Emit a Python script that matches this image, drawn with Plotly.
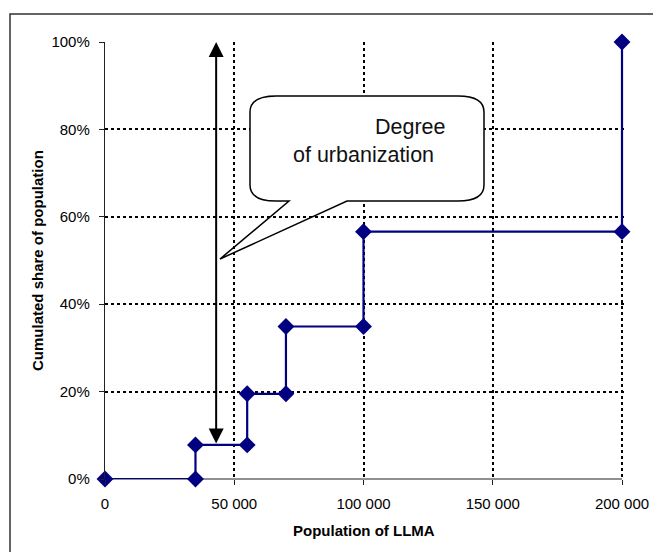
import plotly.graph_objects as go

# ---- data ----
population = [0, 35000, 35000, 55000, 55000, 70000, 70000, 100000, 100000, 200000, 200000]
cum_share = [0.0, 0.0, 0.078, 0.078, 0.195, 0.195, 0.349, 0.349, 0.566, 0.566, 1.0]
x_tickvals = [0, 50000, 100000, 150000, 200000]
x_ticktext = ["0", "50 000", "100 000", "150 000", "200 000"]
y_tickvals = [0, 0.2, 0.4, 0.6, 0.8, 1.0]
arrow_x = 43000
arrow_top = 1.0
arrow_bottom = 0.078
callout_lines = ["Degree", "of urbanization"]
x_title = "Population of LLMA"
y_title = "Cumulated share of population"

# ---- layout geometry (pixels) ----
W, H = 653, 552
L, R, T, B = 105, 27, 42, 73
PW, PH = W - L - R, H - T - B
X_AXIS_PX = 517            # pixel span of 0..200000
x_max = 200000 * PW / X_AXIS_PX   # small extra room so the last vertical step isn't clipped

def xp(px):
    return (px - L) / PW

def yp(py):
    return (H - B - py) / PH

FONT = "Liberation Sans, Arial, sans-serif"

fig = go.Figure()
fig.add_trace(go.Scatter(
    x=population, y=cum_share, mode="lines+markers",
    line=dict(color="#000080", width=2.2),
    marker=dict(symbol="diamond", size=13, color="#000080"),
    cliponaxis=False, showlegend=False, hoverinfo="skip",
))

# callout box (rounded rectangle with a wedge pointer)
bx0, bx1, by0, by1 = 250, 484, 96, 201
rx, ry = 26, 16
tip = (220, 259)
pb0, pb1 = 289, 347

def P(px, py):
    return f"{xp(px):.5f},{yp(py):.5f}"

box_path = (f"M{P(bx0, by0 + ry)} Q{P(bx0, by0)} {P(bx0 + rx, by0)} "
            f"L{P(bx1 - rx, by0)} Q{P(bx1, by0)} {P(bx1, by0 + ry)} "
            f"L{P(bx1, by1 - ry)} Q{P(bx1, by1)} {P(bx1 - rx, by1)} "
            f"L{P(bx0 + rx, by1)} Q{P(bx0, by1)} {P(bx0, by1 - ry)} Z")
outline_path = (f"M{P(bx0, by0 + ry)} Q{P(bx0, by0)} {P(bx0 + rx, by0)} "
                f"L{P(bx1 - rx, by0)} Q{P(bx1, by0)} {P(bx1, by0 + ry)} "
                f"L{P(bx1, by1 - ry)} Q{P(bx1, by1)} {P(bx1 - rx, by1)} "
                f"L{P(pb1, by1)} L{P(*tip)} L{P(pb0, by1)} "
                f"L{P(bx0 + rx, by1)} Q{P(bx0, by1)} {P(bx0, by1 - ry)} Z")

shapes = [
    # outer frame (cropped at right/bottom in reference)
    dict(type="rect", xref="paper", yref="paper",
         x0=xp(10), x1=xp(W + 20), y0=yp(H + 20), y1=yp(14),
         line=dict(color="#303030", width=1.5), fillcolor="rgba(0,0,0,0)", layer="below"),
    dict(type="path", xref="paper", yref="paper", path=box_path,
         fillcolor="white", line=dict(width=0), layer="above"),
    dict(type="path", xref="paper", yref="paper", path=outline_path,
         fillcolor="rgba(0,0,0,0)", line=dict(color="black", width=1.5), layer="above"),
]

annotations = [
    # double-headed arrow
    dict(x=arrow_x, y=arrow_top, ax=arrow_x, ay=arrow_bottom,
         xref="x", yref="y", axref="x", ayref="y", text="",
         showarrow=True, arrowside="end+start",
         arrowhead=2, arrowsize=1.5, startarrowhead=2, startarrowsize=1.5,
         arrowwidth=2, arrowcolor="black"),
    dict(x=xp(448), y=yp(127), xref="paper", yref="paper", text=callout_lines[0],
         showarrow=False, xanchor="right", yanchor="middle",
         font=dict(family=FONT, size=21.5, color="#111")),
    dict(x=xp(291), y=yp(155), xref="paper", yref="paper", text=callout_lines[1],
         showarrow=False, xanchor="left", yanchor="middle",
         font=dict(family=FONT, size=21.5, color="#111")),
    # axis titles
    dict(x=xp(363.5), y=yp(530.5), xref="paper", yref="paper", text=f"<b>{x_title}</b>",
         showarrow=False, xanchor="center", yanchor="middle",
         font=dict(family=FONT, size=15, color="black")),
    dict(x=xp(37.5), y=yp(260.5), xref="paper", yref="paper", text=f"<b>{y_title}</b>",
         showarrow=False, xanchor="center", yanchor="middle", textangle=-90,
         font=dict(family=FONT, size=15, color="black")),
]

fig.update_layout(
    width=W, height=H,
    margin=dict(l=L, r=R, t=T, b=B, autoexpand=False),
    paper_bgcolor="white", plot_bgcolor="white",
    showlegend=False,
    shapes=shapes, annotations=annotations,
    font=dict(family=FONT, size=15, color="black"),
)
fig.update_xaxes(
    range=[0, x_max], tickvals=x_tickvals, ticktext=x_ticktext,
    showline=False,
    ticks="outside", ticklen=5, tickcolor="#222", tickwidth=1,
    showgrid=True, gridcolor="black", gridwidth=2, griddash="dot",
    zeroline=False, tickfont=dict(size=15, color="black"),
    ticklabelstandoff=6, automargin=False,
)
fig.update_yaxes(
    range=[0, 1], tickvals=y_tickvals, tickformat=".0%",
    showline=True, linecolor="#222", linewidth=1.2,
    ticks="outside", ticklen=5, tickcolor="#222", tickwidth=1,
    showgrid=True, gridcolor="black", gridwidth=2, griddash="dot",
    zeroline=False, tickfont=dict(size=15, color="black"),
    ticklabelstandoff=6, automargin=False,
)
# x-axis baseline spanning exactly 0..200000
fig.add_shape(type="line", xref="x", yref="paper", x0=0, x1=x_tickvals[-1], y0=0, y1=0,
              line=dict(color="#222", width=1.2), layer="below")

fig.write_html("out.html", config={"displayModeBar": False, "staticPlot": True})

# remove the browser's default page margin so the figure sits at the window origin
with open("out.html", "r", encoding="utf-8") as f:
    html = f.read()
html = html.replace("<head>", "<head><style>html,body{margin:0;padding:0;overflow:hidden;}</style>", 1)
with open("out.html", "w", encoding="utf-8") as f:
    f.write(html)
